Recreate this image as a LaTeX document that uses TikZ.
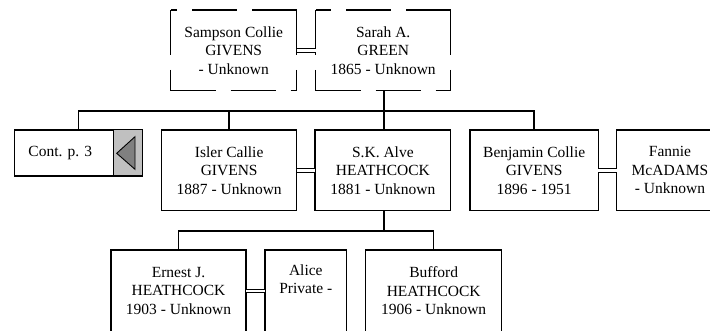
\documentclass[tikz,border=0pt]{standalone}
\usepackage{fontspec}
\setmainfont{Liberation Serif}
\newcommand\boxfont{\fontsize{15.5}{18.5}\selectfont}
\definecolor{btngrey}{RGB}{192,192,192}
\definecolor{tridark}{RGB}{128,128,128}
\begin{document}
\begin{tikzpicture}[x=1pt,y=-1pt,
  box/.style={draw, line width=1.3pt, align=center, inner sep=0pt, outer sep=0pt,
    minimum height=80.7pt, font=\boxfont},
  dbox/.style={box, draw=none},
  dashside/.style={line width=1.2pt, dash pattern=on 45pt off 15pt},
  link/.style={line width=1.5pt},
  spouse/.style={double, double distance=2.6pt, line width=1.1pt}]
\useasboundingbox (0,0) rectangle (710,331);
\clip (0,0) rectangle (710,331);
% generation 1
\node[dbox, minimum width=126pt] (sampson) at (233.7,50.3) {Sampson Collie\\GIVENS\\- Unknown};
\node[dbox, minimum width=135pt] (sarah) at (383.2,50.3) {Sarah A.\\GREEN\\1865 - Unknown};
\foreach \b in {sampson,sarah}{
  \draw[dashside] (\b.north east) -- (\b.north west);
  \draw[dashside] (\b.south west) -- (\b.south east);
  \draw[dashside] (\b.north west) -- (\b.south west);
  \draw[dashside] (\b.north east) -- (\b.south east);
}
% generation 2
\node[draw, line width=1.3pt, inner sep=0pt, outer sep=0pt, minimum width=128.4pt, minimum height=46pt] (cont) at (78.5,153) {};
\node[font=\boxfont, inner sep=0pt] (conttext) at (60.3,153.3) {Cont. p. 3};
\node[draw, line width=1pt, fill=btngrey, inner sep=0pt, minimum width=29.4pt, minimum height=46pt] (btn) at (128,153) {};
\draw[line width=0.9pt, fill=tridark] (116.7,153.3) -- (135,136.7) -- (135,169.3) -- cycle;
\node[box, minimum width=135pt] (isler) at (229.2,170.3) {Isler Callie\\GIVENS\\1887 - Unknown};
\node[box, minimum width=135.7pt] (sk) at (382.9,170.3) {S.K. Alve\\HEATHCOCK\\1881 - Unknown};
\node[box, minimum width=128.3pt] (benj) at (534.2,170.3) {Benjamin Collie\\GIVENS\\1896 - 1951};
\node[box, minimum width=106.7pt] (fannie) at (670,170.3) {Fannie\\McADAMS\\- Unknown};
% generation 3
\node[box, minimum width=135pt, minimum height=82pt] (ernest) at (178.5,291) {Ernest J.\\HEATHCOCK\\1903 - Unknown};
\node[box, minimum width=81.7pt, minimum height=82pt] (alice) at (305.8,291) {Alice\\Private -\\\strut};
\node[box, minimum width=136pt, minimum height=82pt] (bufford) at (433.7,291) {Bufford\\HEATHCOCK\\1906 - Unknown};
% couples
\draw[spouse] (sampson.east) -- (sarah.west);
\draw[spouse] (isler.east) -- (sk.west);
\draw[spouse] (benj.east) -- (fannie.west);
\draw[spouse] (ernest.east) -- (alice.west);
% descent lines
\coordinate (bus1) at (384,111);
\coordinate (bus2) at (384,231);
\draw[link] (sarah.south -| bus1) -- (bus1);
\draw[link] (cont.north) |- (bus1) -| (benj.north);
\draw[link] (isler.north) -- (isler.north |- bus1);
\draw[link] (sk.north -| bus1) -- (bus1);
\draw[link] (sk.south -| bus2) -- (bus2);
\draw[link] (ernest.north) |- (bus2) -| (bufford.north);
\end{tikzpicture}
\end{document}
